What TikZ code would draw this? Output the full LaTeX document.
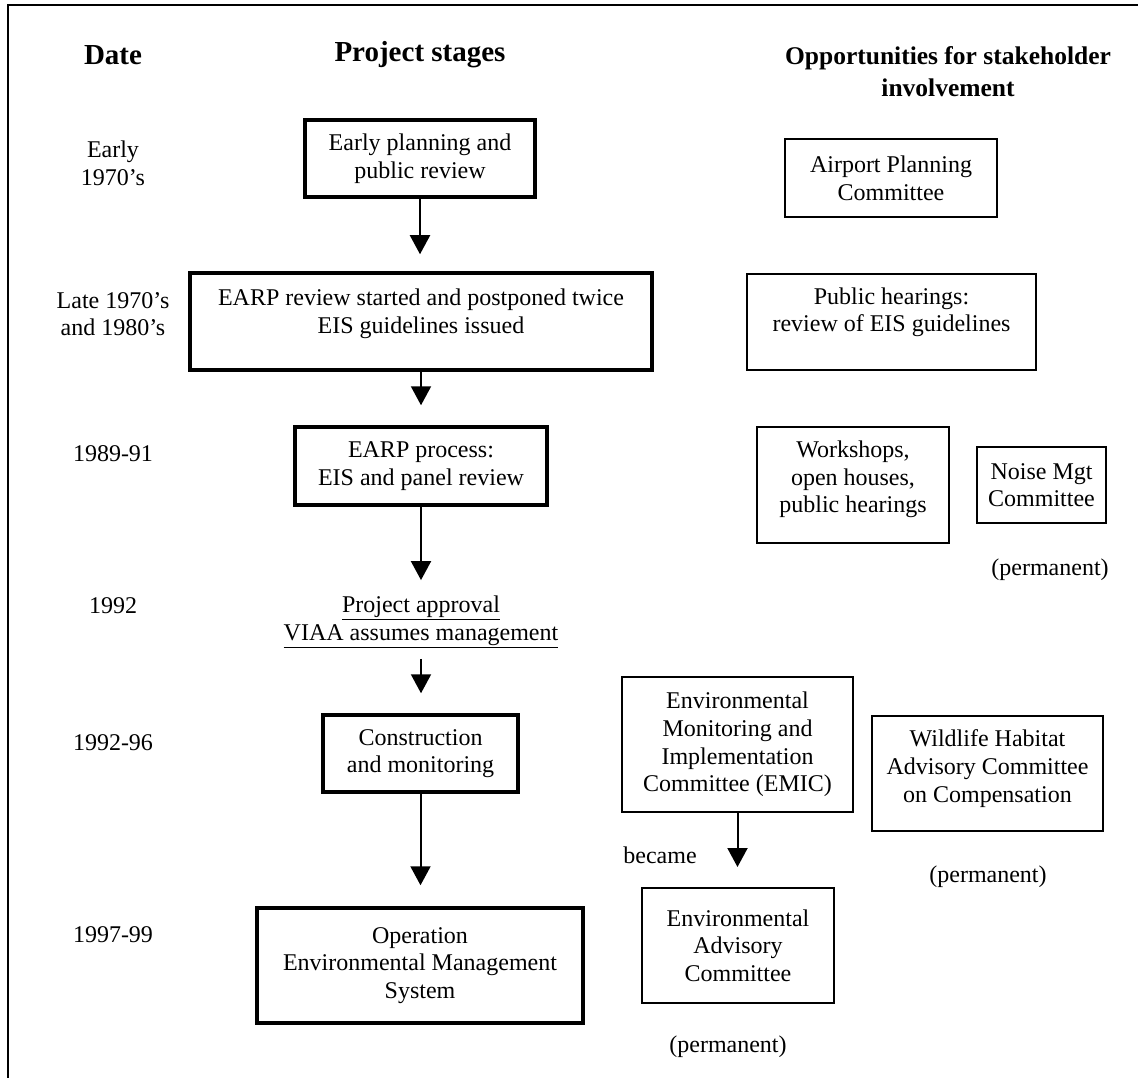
\documentclass[tikz,border=0pt]{standalone}
\usepackage{fontspec}
\setmainfont{Liberation Serif}
\usetikzlibrary{arrows.meta}
\newcommand{\liftup}[2]{\begin{tabular}{@{}c@{}}#2\\[#1]\end{tabular}}
\begin{document}
\begin{tikzpicture}[x=1pt,y=-1pt,
  every node/.style={font=\fontsize{24}{27.6}\selectfont, align=center, inner sep=0pt},
  head/.style={font=\fontsize{29}{32}\selectfont\bfseries},
  headsmall/.style={font=\fontsize{25.5}{32}\selectfont\bfseries},
  thickbox/.style={draw, line width=3.5pt},
  thinbox/.style={draw, line width=2pt},
  arr/.style={line width=2pt, -{Triangle[width=20pt,length=19pt]}}]
\useasboundingbox (0,0) rectangle (1138,1078);
% frame
\draw[line width=2.5pt] (8,1078) -- (8,5) -- (1138,5);
% headings
\node[head] (hdate) at (113,55) {Date};
\node[head] (hstage) at (420,55) {Project stages};
\node[headsmall] (hopp) at (948,72) {Opportunities for stakeholder\\involvement};
% dates
\node (d1) at (113,163) {Early\\1970’s};
\node (d2) at (113,314) {Late 1970’s\\and 1980’s};
\node (d3) at (113,454) {1989-91};
\node (d4) at (113,606) {1992};
\node (d5) at (113,743) {1992-96};
\node (d6) at (113,935) {1997-99};
% project stages
\node[thickbox, minimum width=230pt, minimum height=77pt] (s1) at (420,158.5) {Early planning and\\public review};
\node[thickbox, minimum width=462pt, minimum height=97pt] (s2) at (421,321.5) {\liftup{15pt}{EARP review started and postponed twice\\EIS guidelines issued}};
\node[thickbox, minimum width=252pt, minimum height=78pt] (s3) at (421,466) {EARP process:\\EIS and panel review};
\node (appr) at (421,622) {\underline{Project approval}\\\underline{VIAA assumes management}};
\node[thickbox, minimum width=195pt, minimum height=77pt] (s4) at (420.5,753.5) {Construction\\and monitoring};
\node[thickbox, minimum width=326pt, minimum height=115pt] (s5) at (420,965.5) {Operation\\Environmental Management\\System};
% opportunities
\node[thinbox, minimum width=212pt, minimum height=78pt] (oA) at (891,178) {Airport Planning\\Committee};
\node[thinbox, minimum width=289pt, minimum height=96pt] (oB) at (891.5,322) {\liftup{19pt}{Public hearings:\\review of EIS guidelines}};
\node[thinbox, minimum width=192pt, minimum height=116pt] (oC) at (853,485) {\liftup{11pt}{Workshops,\\open houses,\\public hearings}};
\node[thinbox, minimum width=129pt, minimum height=76pt] (oD) at (1041.5,485) {Noise Mgt\\Committee};
\node (pD) at (1050,570) {(permanent)};
\node[thinbox, minimum width=231pt, minimum height=135pt] (oE) at (737.5,744.5) {Environmental\\Monitoring and\\Implementation\\Committee (EMIC)};
\node[thinbox, minimum width=192pt, minimum height=115pt] (oF) at (738,945.5) {Environmental\\Advisory\\Committee};
\node (pF) at (728,1047) {(permanent)};
\node[thinbox, minimum width=231pt, minimum height=115pt] (oG) at (987.5,773.5) {\liftup{9pt}{Wildlife Habitat\\Advisory Committee\\on Compensation}};
\node (pG) at (988,877) {(permanent)};
\node (became) at (660,855) {became};
% connectors
\draw[arr, shorten >=17pt] (s1.south) -- (s1.south |- s2.north);
\draw[arr, shorten >=20pt] (s2.south) -- (s2.south |- s3.north);
\draw[arr, shorten >=16pt] (s3.south) -- (s3.south |- appr.north);
\draw[arr, shorten <=11pt, shorten >=20pt] (appr.south) -- (appr.south |- s4.north);
\draw[arr, shorten >=21pt] (s4.south) -- (s4.south |- s5.north);
\draw[arr, shorten >=20pt] (oE.south) -- (oE.south |- oF.north);
\end{tikzpicture}
\end{document}
